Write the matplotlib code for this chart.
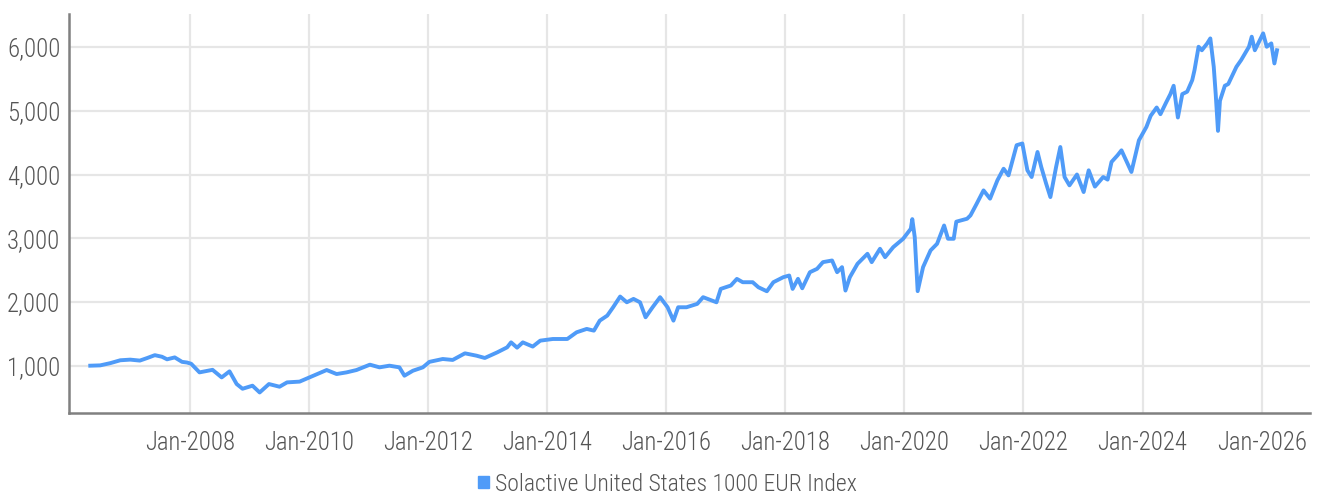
import matplotlib
matplotlib.use("Agg")
import matplotlib.pyplot as plt
import matplotlib.patches as mpatches
import pandas as pd

plt.rcParams['font.family'] = ['Roboto Condensed', 'Roboto', 'DejaVu Sans']

# index levels
dates = [
    "2006-05-01", "2006-07-01", "2006-09-01", "2006-11-01", "2007-01-01", "2007-03-01",
    "2007-04-15", "2007-06-01", "2007-07-15", "2007-08-15", "2007-10-01", "2007-11-15",
    "2007-12-15", "2008-01-10", "2008-03-01", "2008-05-20", "2008-07-15", "2008-09-01",
    "2008-10-15", "2008-11-20", "2009-01-20", "2009-03-05", "2009-05-01", "2009-07-05",
    "2009-08-20", "2009-11-05", "2010-01-05", "2010-04-20", "2010-06-20", "2010-08-20",
    "2010-10-20", "2011-01-10", "2011-03-10", "2011-05-10", "2011-07-10", "2011-08-10",
    "2011-10-01", "2011-12-01", "2012-01-10", "2012-04-01", "2012-06-01", "2012-08-15",
    "2012-10-25", "2012-12-15", "2013-03-01", "2013-05-01", "2013-05-25", "2013-07-01",
    "2013-08-05", "2013-10-05", "2013-11-20", "2014-02-05", "2014-05-05", "2014-07-01",
    "2014-09-01", "2014-10-15", "2014-11-20", "2015-01-05", "2015-02-10", "2015-03-25",
    "2015-05-05", "2015-06-15", "2015-07-25", "2015-08-28", "2015-10-10", "2015-11-25",
    "2016-01-10", "2016-02-15", "2016-03-15", "2016-05-05", "2016-07-10", "2016-08-15",
    "2016-11-05", "2016-12-01", "2017-02-01", "2017-03-10", "2017-04-15", "2017-06-15",
    "2017-07-20", "2017-09-10", "2017-10-20", "2017-12-20", "2018-01-25", "2018-02-15",
    "2018-03-20", "2018-04-15", "2018-06-01", "2018-07-15", "2018-08-20", "2018-10-15",
    "2018-11-15", "2018-12-15", "2019-01-05", "2019-02-01", "2019-03-20", "2019-05-20",
    "2019-06-15", "2019-08-05", "2019-09-05", "2019-10-25", "2019-12-25", "2020-02-10",
    "2020-02-19", "2020-03-05", "2020-03-23", "2020-04-25", "2020-06-10", "2020-07-20",
    "2020-09-01", "2020-09-25", "2020-10-30", "2020-11-15", "2021-01-20", "2021-02-10",
    "2021-03-20", "2021-05-01", "2021-06-10", "2021-07-25", "2021-09-01", "2021-10-01",
    "2021-11-20", "2021-12-25", "2022-01-25", "2022-02-20", "2022-03-28", "2022-04-20",
    "2022-05-20", "2022-06-15", "2022-07-20", "2022-08-15", "2022-09-10", "2022-10-10",
    "2022-11-25", "2023-01-05", "2023-02-05", "2023-03-15", "2023-05-05", "2023-06-01",
    "2023-06-25", "2023-08-01", "2023-08-25", "2023-10-25", "2023-12-10", "2024-01-25",
    "2024-02-20", "2024-03-28", "2024-04-20", "2024-05-25", "2024-06-20", "2024-07-10",
    "2024-08-05", "2024-09-01", "2024-10-01", "2024-11-01", "2024-11-15", "2024-12-10",
    "2024-12-30", "2025-02-01", "2025-02-20", "2025-03-13", "2025-03-25", "2025-04-08",
    "2025-04-20", "2025-05-20", "2025-06-10", "2025-07-30", "2025-08-28", "2025-10-15",
    "2025-11-01", "2025-11-20", "2026-01-10", "2026-02-01", "2026-03-01", "2026-03-20",
    "2026-04-05",
]
values = [
    1000, 1005, 1040, 1085, 1095, 1080,
    1120, 1165, 1140, 1100, 1130, 1060,
    1050, 1030, 895, 935, 816, 911,
    712, 638, 686, 580, 712, 670,
    738, 750, 817, 932, 869, 895,
    932, 1016, 974, 1000, 974, 843,
    921, 974, 1060, 1105, 1090, 1194,
    1157, 1121, 1209, 1288, 1366, 1283,
    1366, 1300, 1393, 1419, 1419, 1524,
    1577, 1550, 1707, 1786, 1917, 2085,
    1995, 2048, 1995, 1760, 1917, 2075,
    1917, 1707, 1917, 1917, 1970, 2075,
    1995, 2205, 2258, 2362, 2310, 2310,
    2231, 2168, 2310, 2389, 2415, 2205,
    2363, 2215, 2467, 2520, 2625, 2651,
    2467, 2546, 2179, 2389, 2599, 2756,
    2625, 2835, 2703, 2860, 2992, 3149,
    3300, 3018, 2170, 2546, 2809, 2913,
    3200, 2992, 2992, 3260, 3306, 3359,
    3542, 3751, 3621, 3909, 4091, 3987,
    4460, 4487, 4066, 3961, 4354, 4118,
    3857, 3646, 4118, 4432, 3961, 3830,
    4000, 3725, 4066, 3810, 3961, 3920,
    4197, 4302, 4380, 4040, 4537, 4747,
    4921, 5052, 4947, 5131, 5262, 5393,
    4895, 5262, 5300, 5481, 5639, 6005,
    5950, 6058, 6136, 5690, 5262, 4685,
    5157, 5393, 5420, 5690, 5796, 6005,
    6163, 5950, 6215, 6005, 6058, 5743,
    5950,
]
series_name = "Solactive United States 1000 EUR Index"
y_ticks = [1000, 2000, 3000, 4000, 5000, 6000]
x_tick_years = list(range(2008, 2027, 2))

blue = "#4f9bf8"
text_col = "#555555"

fig = plt.figure(figsize=(13.22, 4.98), dpi=100)
ax = fig.add_axes([0.052, 0.171, 0.939, 0.801])

ax.plot(pd.to_datetime(dates), values, color=blue, lw=2.8, solid_joinstyle="round")

ax.set_ylim(260, 6520)
ax.set_xlim(pd.Timestamp("2005-12-20"), pd.Timestamp("2026-10-25"))
ax.set_yticks(y_ticks)
ax.set_yticklabels([f"{v:,}" for v in y_ticks])
xt = [pd.Timestamp(f"{y}-01-01") for y in x_tick_years]
ax.set_xticks(xt)
ax.set_xticklabels([f"Jan-{y}" for y in x_tick_years])
for lbl in ax.get_xticklabels() + ax.get_yticklabels():
    lbl.set_fontweight("light")

ax.grid(True, color="#e6e6e6", lw=1.6)
ax.set_axisbelow(True)
ax.tick_params(length=0, labelsize=17.8, colors=text_col)
ax.tick_params(axis="y", pad=6)
ax.tick_params(axis="x", pad=13)
for s in ["top", "right"]:
    ax.spines[s].set_visible(False)
for s in ["left", "bottom"]:
    ax.spines[s].set_color("#808080")
    ax.spines[s].set_linewidth(1.8)

handle = mpatches.Patch(color=blue, label=series_name)
leg = fig.legend(handles=[handle], loc="center", bbox_to_anchor=(0.505, 0.028),
                 frameon=False, fontsize=17, labelcolor=text_col,
                 handlelength=0.45, handleheight=0.45, handletextpad=0.25)
for t in leg.get_texts():
    t.set_fontweight("light")

fig.savefig("out.png", dpi=100)
